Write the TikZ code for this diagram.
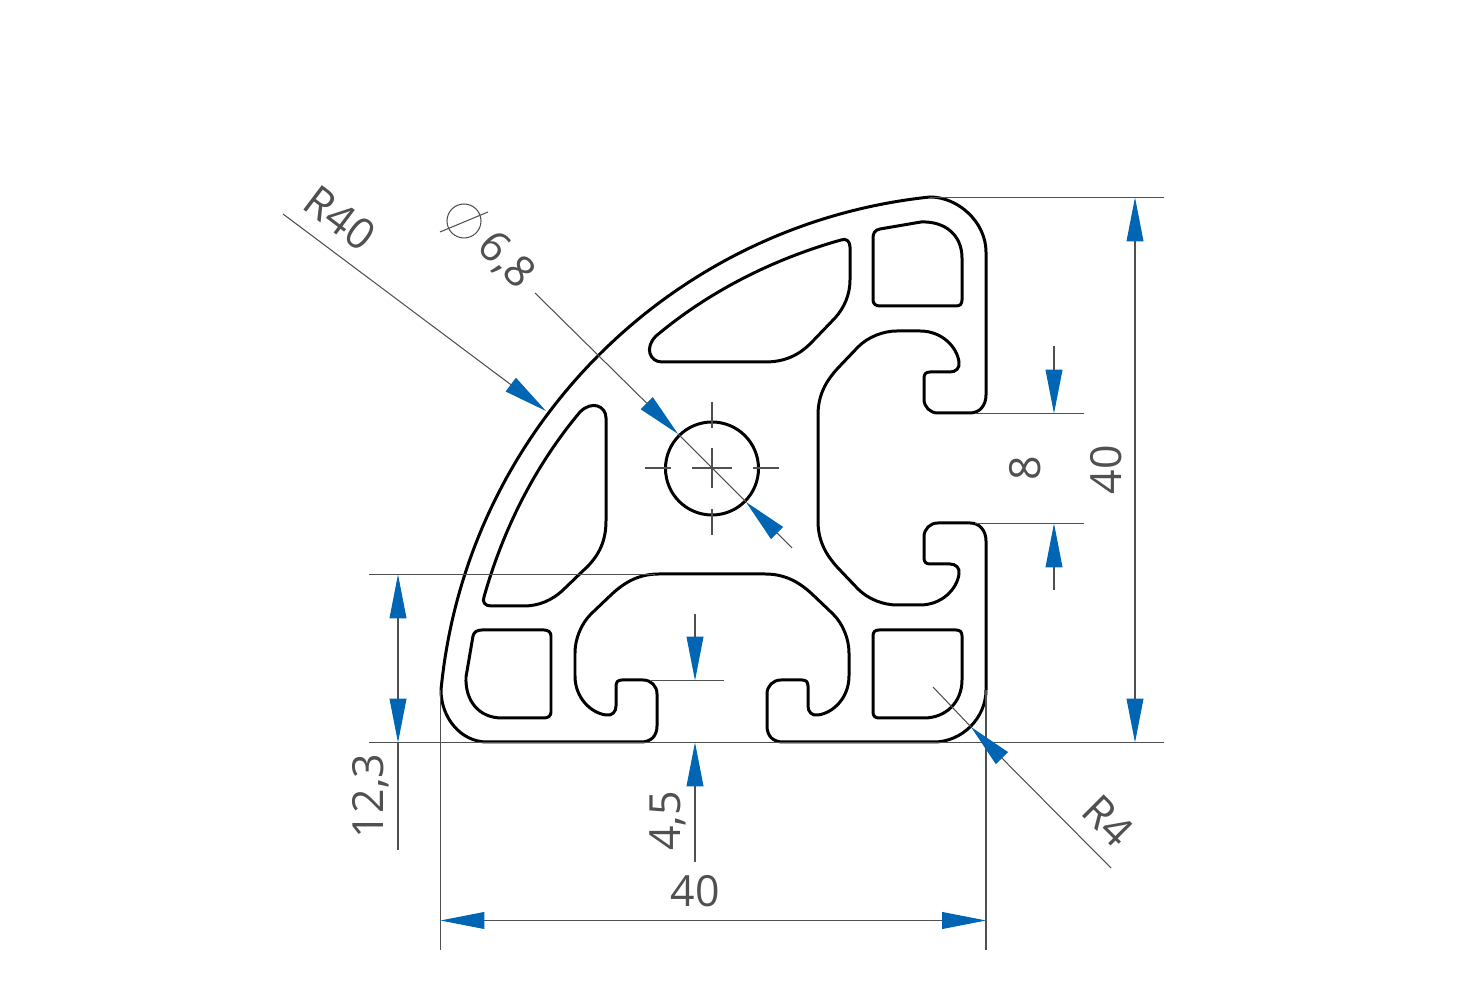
\documentclass[tikz,border=0pt]{standalone}
\usepackage{fontspec}
\setmainfont{Open Sans}
\usetikzlibrary{arrows.meta}
\definecolor{dimgray}{HTML}{505050}
\definecolor{dimblue}{HTML}{0066B3}
\begin{document}
\begin{tikzpicture}[x=0.01cm, y=-0.01cm,
	>={Triangle[length=12.5pt, width=4.8pt, color=dimblue]},
	profile/.style={draw=black, line width=0.85pt, line join=round},
	dimline/.style={draw=dimgray, line width=0.3pt},
	dimtext/.style={text=dimgray, inner sep=0pt, font=\fontsize{12.2}{14}\selectfont}]
	\useasboundingbox (0,0) rectangle (1466,986);

	% outer contour
	\draw[profile] (930,197) .. controls (958,197) and (986,222) .. (986,252)
		-- (986,395) .. controls (986,405) and (980,413) .. (970,413)
		-- (938,413) .. controls (930,413) and (924,407) .. (924,399)
		-- (924,378) .. controls (924,374) and (926,372) .. (930,372)
		-- (950,372) .. controls (956,372) and (960,368) .. (959,362)
		.. controls (957,347) and (942,331) .. (920,331)
		-- (897,331) .. controls (883,331) and (868,337) .. (858,347)
		-- (838,368) .. controls (826,381) and (818,395) .. (818,415)
		-- (818,521) .. controls (818,541) and (826,555) .. (838,568)
		-- (858,589) .. controls (868,599) and (883,605) .. (897,605)
		-- (920,605) .. controls (942,605) and (957,589) .. (959,574)
		.. controls (960,568) and (956,564) .. (950,564)
		-- (930,564) .. controls (926,564) and (924,562) .. (924,558)
		-- (924,537) .. controls (924,529) and (930,523) .. (938,523)
		-- (970,523) .. controls (980,523) and (986,531) .. (986,541)
		-- (986,690) .. controls (986,718) and (962,742) .. (934,742)
		-- (783,742) .. controls (773,742) and (767,736) .. (767,726)
		-- (767,694) .. controls (767,686) and (773,680) .. (781,680)
		-- (802,680) .. controls (806,680) and (808,682) .. (808,686)
		-- (808,706) .. controls (808,712) and (812,716) .. (818,715)
		.. controls (833,713) and (849,698) .. (849,676)
		-- (849,653) .. controls (849,639) and (843,624) .. (833,614)
		-- (812,594) .. controls (799,582) and (785,574) .. (765,574)
		-- (659,574) .. controls (639,574) and (625,582) .. (612,594)
		-- (591,614) .. controls (581,624) and (575,639) .. (575,653)
		-- (575,676) .. controls (575,698) and (591,713) .. (606,715)
		.. controls (612,716) and (616,712) .. (616,706)
		-- (616,686) .. controls (616,682) and (618,680) .. (622,680)
		-- (643,680) .. controls (651,680) and (657,686) .. (657,694)
		-- (657,726) .. controls (657,736) and (651,742) .. (641,742)
		-- (487,742) .. controls (461,742) and (441,718) .. (441,690)
		.. controls (466,430) and (671,224) .. (930,197) -- cycle;

	% chambers
	\draw[profile] (873,238) .. controls (873,233) and (875,230) .. (880,229)
		-- (921,222) .. controls (945,221) and (962,235) .. (962,258)
		-- (962,300) .. controls (962,304) and (960,306) .. (956,306)
		-- (880,306) .. controls (876,306) and (873,304) .. (873,300) -- cycle;
	\draw[profile] (873,636) .. controls (873,632) and (875,630) .. (879,630)
		-- (956,630) .. controls (960,630) and (962,632) .. (962,636)
		-- (962,680) .. controls (962,702) and (946,718) .. (924,718)
		-- (879,718) .. controls (875,718) and (873,716) .. (873,712) -- cycle;
	\draw[profile] (482,630) -- (544,630) .. controls (548,630) and (551,632) .. (551,636)
		-- (551,712) .. controls (551,716) and (548,718) .. (544,718)
		-- (502,718) .. controls (479,718) and (465,701) .. (466,677)
		-- (473,636) .. controls (474,632) and (477,630) .. (482,630) -- cycle;
	\draw[profile] (656,336) .. controls (712,289) and (777,258) .. (841,240)
		.. controls (846,238) and (850,241) .. (850,247)
		-- (850,280) .. controls (850,295) and (844,308) .. (835,318)
		-- (811,343) .. controls (799,355) and (785,362) .. (765,362)
		-- (662,362) .. controls (650,362) and (644,348) .. (656,336) -- cycle;
	\draw[profile] (580,412) .. controls (533,468) and (502,533) .. (484,597)
		.. controls (482,602) and (485,606) .. (491,606)
		-- (524,606) .. controls (539,606) and (552,600) .. (562,591)
		-- (587,567) .. controls (599,555) and (606,541) .. (606,521)
		-- (606,418) .. controls (606,406) and (592,400) .. (580,412) -- cycle;
	\draw[profile] (712,468.5) circle[radius=46.5];

	% centre marks
	\foreach \a/\b/\c/\d in {692/468/732/468, 712/448/712/488, 645/468/671/468, 753/468/779/468, 712/402/712/428, 712/509/712/535}
		\draw[dimline] (\a,\b) -- (\c,\d);

	% dimension points
	\coordinate (topL) at (930,197.5);
	\coordinate (topR) at (1164,197.5);
	\coordinate (botL) at (369,742.5);
	\coordinate (botR) at (1164,742.5);
	\coordinate (hA) at (1135,197.5);
	\coordinate (hB) at (1135,742.5);
	\coordinate (slotA) at (975,413.5);
	\coordinate (slotB) at (1084,413.5);
	\coordinate (slotC) at (975,523.5);
	\coordinate (slotD) at (1084,523.5);
	\coordinate (gapA) at (1054,346);
	\coordinate (gapB) at (1054,413.5);
	\coordinate (gapC) at (1054,590);
	\coordinate (gapD) at (1054,523.5);
	\coordinate (webA) at (369,574.5);
	\coordinate (webB) at (655,574.5);
	\coordinate (webC) at (398,574.5);
	\coordinate (webD) at (398,742.5);
	\coordinate (webE) at (398,850);
	\coordinate (lipA) at (651,680.5);
	\coordinate (lipB) at (724,680.5);
	\coordinate (lipC) at (695,614);
	\coordinate (lipD) at (695,680.5);
	\coordinate (lipE) at (695,862);
	\coordinate (lipF) at (695,742.5);
	\coordinate (wA) at (440.5,690);
	\coordinate (wB) at (440.5,950);
	\coordinate (wC) at (986,690);
	\coordinate (wD) at (986,950);
	\coordinate (wE) at (440.5,920.5);
	\coordinate (wF) at (986,920.5);
	\coordinate (bigA) at (283,214);
	\coordinate (bigB) at (546,411);
	\coordinate (cornA) at (933,687);
	\coordinate (cornB) at (971,727);
	\coordinate (cornC) at (1111,868);
	\coordinate (boreA) at (535,293);
	\coordinate (boreB) at (678,434);
	\coordinate (boreC) at (746,502);
	\coordinate (boreD) at (792,548);
	\coordinate (symA) at (440,232);
	\coordinate (symB) at (488,212);
	\coordinate (symC) at (464,221);

	% extension lines
	\path (topL) edge[dimline] (topR);
	\path (botL) edge[dimline] (botR);
	\path (slotA) edge[dimline] (slotB);
	\path (slotC) edge[dimline] (slotD);
	\path (webA) edge[dimline] (webB);
	\path (webD) edge[dimline] (webE);
	\path (lipA) edge[dimline] (lipB);
	\path (wA) edge[dimline] (wB);
	\path (wC) edge[dimline] (wD);
	\path (cornA) edge[dimline] (cornB);
	\path (boreB) edge[dimline] (boreC);
	\path (symA) edge[dimline] (symB);
	\draw[dimline] (symC) circle[radius=17];

	% dimension arrows
	\path (hA) edge[dimline, <->] (hB);
	\path (gapA) edge[dimline, ->] (gapB);
	\path (gapC) edge[dimline, ->] (gapD);
	\path (webC) edge[dimline, <->] (webD);
	\path (lipC) edge[dimline, ->] (lipD);
	\path (lipE) edge[dimline, ->] (lipF);
	\path (wE) edge[dimline, <->] (wF);
	\path (bigA) edge[dimline, ->] (bigB);
	\path (cornC) edge[dimline, ->] (cornB);
	\path (boreA) edge[dimline, ->] (boreB);
	\path (boreD) edge[dimline, ->] (boreC);

	% labels
	\node[dimtext] (labH) at (1106,470) [rotate=90] {40};
	\node[dimtext] (labGap) at (1025,468) [rotate=90] {8};
	\node[dimtext] (labWeb) at (371,796) [rotate=90] {12,3};
	\node[dimtext] (labLip) at (668,821) [rotate=90] {4,5};
	\node[dimtext] (labW) at (695,891) {40};
	\node[dimtext] (labBig) at (340,218) [rotate=-37] {R40};
	\node[dimtext] (labCorn) at (1108,821) [rotate=-45] {R4};
	\node[dimtext] (labBore) at (506,261) [rotate=-45] {6,8};
\end{tikzpicture}
\end{document}
